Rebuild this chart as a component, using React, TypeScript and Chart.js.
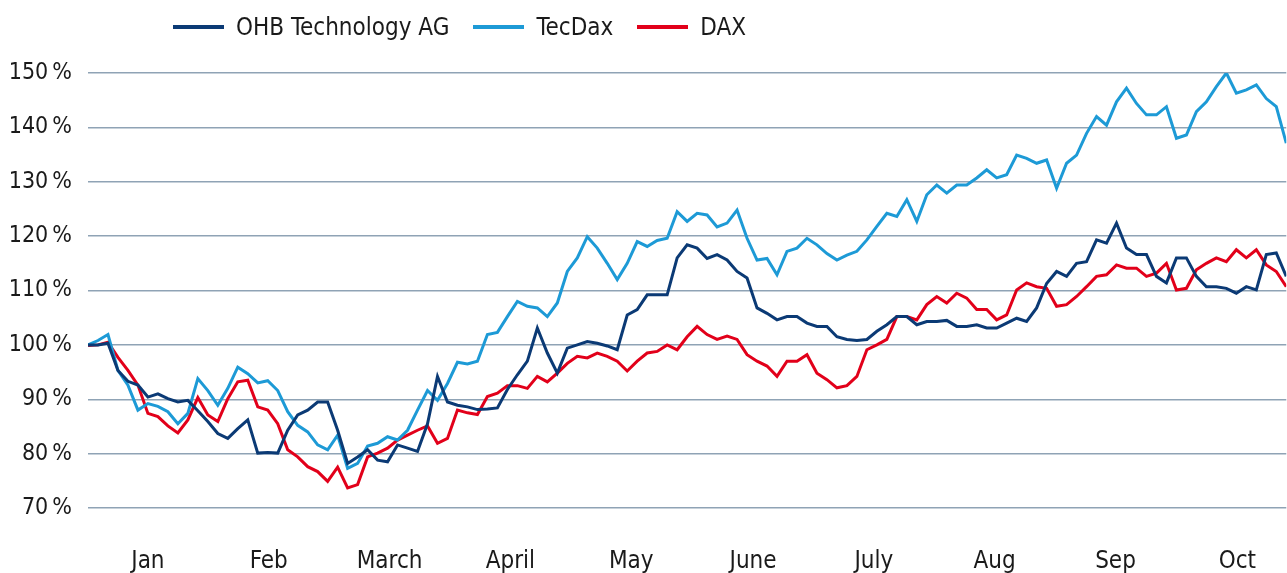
import React, { useEffect, useRef } from "react";
import { Chart, registerables } from "chart.js";

Chart.register(...registerables);

const FONT = "'Liberation Sans Narrow', 'DejaVu Sans Condensed', 'Roboto', sans-serif";

const monthLabels = ["Jan", "Feb", "March", "April", "May", "June", "July", "Aug", "Sep", "Oct"];
const monthTickPositions = [6, 18.1, 30.2, 42.3, 54.4, 66.6, 78.7, 90.8, 102.9, 115.1];

const seriesNames = ["OHB Technology AG", "TecDax", "DAX"];
const seriesColors = ["#0b3a75", "#1d9ad6", "#e2001a"];

const ohb = [
  100, 100, 100.3, 95.3, 93.3, 92.6, 90.4, 91, 90.1, 89.5,
  89.8, 87.9, 85.9, 83.7, 82.8, 84.6, 86.2, 80.1, 80.2, 80.1,
  84.3, 87.1, 88, 89.5, 89.5, 84.3, 78.2, 79.4, 80.7, 78.8,
  78.5, 81.6, 81, 80.4, 85.5, 94.2, 89.5, 88.9, 88.6, 88.1,
  88.2, 88.4, 91.8, 94.5, 97, 103.1, 98.5, 94.8, 99.4, 100,
  100.6, 100.3, 99.8, 99.1, 105.5, 106.5, 109.2, 109.2, 109.2, 116,
  118.4, 117.8, 115.9, 116.6, 115.6, 113.5, 112.3, 106.8, 105.8, 104.6,
  105.2, 105.2, 104, 103.4, 103.4, 101.5, 101, 100.8, 101, 102.5,
  103.7, 105.2, 105.2, 103.7, 104.3, 104.3, 104.5, 103.4, 103.4, 103.7,
  103.1, 103.1, 104, 104.9, 104.3, 106.8, 111.3, 113.5, 112.6, 115,
  115.3, 119.3, 118.7, 122.4, 117.8, 116.6, 116.6, 112.6, 111.4, 116,
  116, 112.6, 110.7, 110.7, 110.4, 109.5, 110.7, 110.1, 116.6, 116.9,
  112.6,
];

const tecdax = [
  100, 100.8, 101.9, 95.3, 92.6, 88, 89.2, 88.7, 87.7, 85.5,
  87.4, 93.8, 91.6, 88.9, 92, 95.9, 94.7, 93, 93.4, 91.6,
  87.7, 85.2, 84, 81.6, 80.7, 83.4, 77.3, 78.2, 81.4, 81.9,
  83.1, 82.5, 84.3, 88, 91.6, 89.8, 92.9, 96.8, 96.5, 97,
  101.9, 102.3, 105.2, 108, 107.1, 106.8, 105.2, 107.7, 113.5, 116,
  119.9, 117.8, 115, 112, 115, 119, 118.1, 119.2, 119.6, 124.5,
  122.7, 124.2, 123.9, 121.7, 122.4, 124.8, 119.6, 115.6, 115.9, 112.9,
  117.2, 117.8, 119.6, 118.4, 116.8, 115.6, 116.5, 117.2, 119.3, 121.8,
  124.2, 123.6, 126.7, 122.7, 127.6, 129.4, 127.9, 129.4, 129.4, 130.7,
  132.2, 130.7, 131.3, 134.9, 134.3, 133.4, 134, 128.8, 133.4, 134.9,
  138.9, 142, 140.4, 144.7, 147.2, 144.4, 142.3, 142.3, 143.8, 138,
  138.6, 142.9, 144.7, 147.5, 150, 146.3, 146.9, 147.8, 145.3, 143.8,
  137.1,
];

const dax = [
  99.9, 100, 100.5, 97.7, 95.3, 92.6, 87.4, 86.8, 85.1, 83.8,
  86.2, 90.3, 87.1, 85.9, 90.1, 93.2, 93.5, 88.6, 88, 85.5,
  80.7, 79.4, 77.6, 76.7, 74.9, 77.5, 73.7, 74.3, 79.4, 80.1,
  81, 82.5, 83.4, 84.3, 85.1, 81.9, 82.8, 88, 87.5, 87.2,
  90.5, 91.1, 92.5, 92.5, 92, 94.2, 93.2, 94.8, 96.6, 97.9,
  97.6, 98.5, 97.9, 97, 95.2, 97, 98.5, 98.8, 100, 99.1,
  101.5, 103.4, 101.9, 101, 101.6, 101, 98.2, 97, 96.1, 94.2,
  97, 97, 98.2, 94.8, 93.6, 92.1, 92.5, 94.2, 99.1, 100,
  101, 105.2, 105.2, 104.6, 107.4, 108.9, 107.7, 109.5, 108.6, 106.5,
  106.5, 104.6, 105.5, 110.1, 111.4, 110.7, 110.4, 107.1, 107.4, 108.9,
  110.7, 112.6, 112.9, 114.7, 114.1, 114.1, 112.6, 113.2, 115, 110.1,
  110.4, 113.8, 115, 116, 115.3, 117.5, 116, 117.5, 114.7, 113.5,
  110.7,
];

const seriesValues = [ohb, tecdax, dax];

export default function App() {
  const canvasRef = useRef<HTMLCanvasElement | null>(null);

  useEffect(() => {
    document.body.style.margin = "0";
    const canvas = canvasRef.current;
    if (!canvas) return;
    const datasets = seriesValues.map((vals, k) => ({
      label: seriesNames[k],
      data: vals.map((v, i) => ({ x: i, y: v })),
      borderColor: seriesColors[k],
      backgroundColor: seriesColors[k],
      borderWidth: 3,
      pointRadius: 0,
      tension: 0,
      fill: false,
    }));
    const chart = new Chart(canvas, {
      type: "line",
      data: { datasets },
      options: {
        responsive: false,
        animation: false,
        layout: { padding: { top: 73, right: 0, bottom: 0, left: 0 } },
        plugins: { legend: { display: false }, tooltip: { enabled: false } },
        scales: {
          x: {
            type: "linear",
            min: 0,
            max: ohb.length - 1,
            grid: { display: false },
            border: { display: false },
            afterBuildTicks: (s: any) => {
              s.ticks = monthTickPositions.map((v) => ({ value: v }));
            },
            afterFit: (s: any) => {
              s.height = 65;
            },
            ticks: {
              autoSkip: false,
              maxRotation: 0,
              padding: 31,
              color: "#1a1a1a",
              font: { family: FONT, size: 24 },
              callback: (_v: any, i: number) => monthLabels[i],
            },
          },
          y: {
            min: 70,
            max: 150,
            afterFit: (s: any) => {
              s.width = 88;
            },
            grid: { color: "#8fa3b5", lineWidth: 1.5, drawTicks: false },
            border: { display: false },
            ticks: {
              stepSize: 10,
              padding: 16,
              color: "#1a1a1a",
              font: { family: FONT, size: 23 },
              callback: (v: any) => `${v}\u2009%`,
            },
          },
        },
      },
    });
    return () => chart.destroy();
  }, []);

  return (
    <div style={{ position: "relative", width: 1287, height: 573 }}>
      <canvas ref={canvasRef} width={1287} height={573} style={{ display: "block" }} />
      <div
        style={{
          position: "absolute",
          left: 173,
          top: 13,
          display: "flex",
          alignItems: "center",
          fontFamily: FONT,
          fontSize: 24,
          lineHeight: "28px",
          color: "#1a1a1a",
          whiteSpace: "nowrap",
        }}
      >
        {seriesNames.map((name, k) => (
          <div key={name} style={{ display: "flex", alignItems: "center", marginRight: 24 }}>
            <span style={{ display: "inline-block", width: 51, height: 4, background: seriesColors[k], marginRight: 12 }} />
            <span>{name}</span>
          </div>
        ))}
      </div>
    </div>
  );
}
